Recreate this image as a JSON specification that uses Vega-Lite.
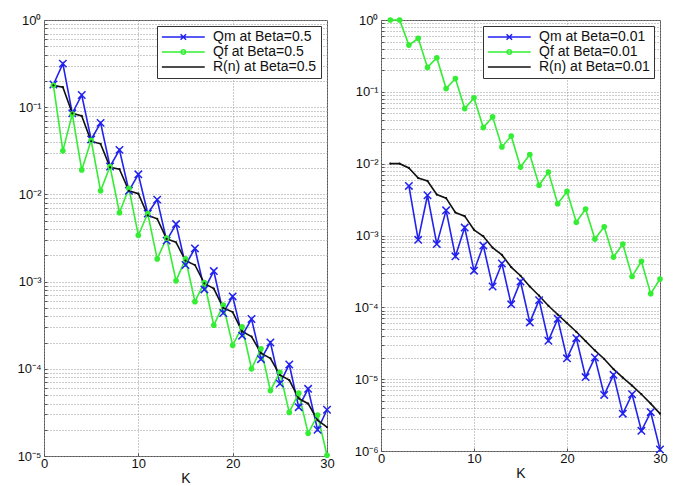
{
 "$schema": "https://vega.github.io/schema/vega-lite/v6.json",
 "background": "white",
 "padding": {"left": 16, "top": 13, "right": 5, "bottom": 0},
 "spacing": 18,
 "config": {
  "font": "Liberation Sans",
  "view": {"stroke": "#555555", "strokeWidth": 1},
  "axis": {"labelFont": "Liberation Sans", "labelFontSize": 13, "labelColor": "#111111", "titleFont": "Liberation Sans", "titleFontSize": 14, "titleFontWeight": "normal", "titleColor": "#111111", "grid": true, "gridColor": "#999999", "gridDash": [1, 2], "gridOpacity": 1, "domain": false, "tickColor": "#555555", "tickSize": -3, "labelFlush": false, "labelOverlap": false},
  "axisX": {"labelPadding": 4, "titlePadding": 1},
  "axisY": {"labelPadding": 6},
  "legend": {"orient": "top-right", "offset": 6, "title": null, "symbolType": "M-1,0H6", "symbolSize": 150, "symbolStrokeWidth": 1.5, "labelOffset": 38, "labelFontSize": 14, "labelFont": "Liberation Sans", "labelColor": "#111111", "strokeColor": "#333333", "fillColor": "white", "padding": 4, "rowPadding": 1}
 },
 "datasets": {
  "L": [
   {"K":1,"s":"Qm","v":0.182},{"K":2,"s":"Qm","v":0.316},{"K":3,"s":"Qm","v":0.0851},{"K":4,"s":"Qm","v":0.138},{"K":5,"s":"Qm","v":0.0427},{"K":6,"s":"Qm","v":0.0661},{"K":7,"s":"Qm","v":0.0209},{"K":8,"s":"Qm","v":0.0324},{"K":9,"s":"Qm","v":0.011},{"K":10,"s":"Qm","v":0.017},
   {"K":11,"s":"Qm","v":0.00603},{"K":12,"s":"Qm","v":0.00871},{"K":13,"s":"Qm","v":0.00295},{"K":14,"s":"Qm","v":0.00457},{"K":15,"s":"Qm","v":0.00155},{"K":16,"s":"Qm","v":0.0024},{"K":17,"s":"Qm","v":0.000813},{"K":18,"s":"Qm","v":0.00132},{"K":19,"s":"Qm","v":0.000437},{"K":20,"s":"Qm","v":0.000676},
   {"K":21,"s":"Qm","v":0.00024},{"K":22,"s":"Qm","v":0.000372},{"K":23,"s":"Qm","v":0.000129},{"K":24,"s":"Qm","v":0.0002},{"K":25,"s":"Qm","v":0.0000676},{"K":26,"s":"Qm","v":0.000112},{"K":27,"s":"Qm","v":0.0000363},{"K":28,"s":"Qm","v":0.0000589},{"K":29,"s":"Qm","v":0.00002},{"K":30,"s":"Qm","v":0.0000339},
   {"K":1,"s":"Qf","v":0.178},{"K":2,"s":"Qf","v":0.0316},{"K":3,"s":"Qf","v":0.0832},{"K":4,"s":"Qf","v":0.0191},{"K":5,"s":"Qf","v":0.0417},{"K":6,"s":"Qf","v":0.011},{"K":7,"s":"Qf","v":0.0209},{"K":8,"s":"Qf","v":0.00617},{"K":9,"s":"Qf","v":0.01175},{"K":10,"s":"Qf","v":0.00339},
   {"K":11,"s":"Qf","v":0.00603},{"K":12,"s":"Qf","v":0.00182},{"K":13,"s":"Qf","v":0.00316},{"K":14,"s":"Qf","v":0.00102},{"K":15,"s":"Qf","v":0.00182},{"K":16,"s":"Qf","v":0.000589},{"K":17,"s":"Qf","v":0.000977},{"K":18,"s":"Qf","v":0.000316},{"K":19,"s":"Qf","v":0.000537},{"K":20,"s":"Qf","v":0.000186},
   {"K":21,"s":"Qf","v":0.000302},{"K":22,"s":"Qf","v":0.0001},{"K":23,"s":"Qf","v":0.00017},{"K":24,"s":"Qf","v":0.0000562},{"K":25,"s":"Qf","v":0.0000912},{"K":26,"s":"Qf","v":0.0000316},{"K":27,"s":"Qf","v":0.0000525},{"K":28,"s":"Qf","v":0.0000182},{"K":29,"s":"Qf","v":0.0000295},{"K":30,"s":"Qf","v":0.0000102},
   {"K":1,"s":"R","v":0.178},{"K":2,"s":"R","v":0.17},{"K":3,"s":"R","v":0.0851},{"K":4,"s":"R","v":0.0794},{"K":5,"s":"R","v":0.0407},{"K":6,"s":"R","v":0.038},{"K":7,"s":"R","v":0.0204},{"K":8,"s":"R","v":0.0195},{"K":9,"s":"R","v":0.011},{"K":10,"s":"R","v":0.0102},
   {"K":11,"s":"R","v":0.00575},{"K":12,"s":"R","v":0.00525},{"K":13,"s":"R","v":0.00309},{"K":14,"s":"R","v":0.00282},{"K":15,"s":"R","v":0.00174},{"K":16,"s":"R","v":0.00155},{"K":17,"s":"R","v":0.000955},{"K":18,"s":"R","v":0.000832},{"K":19,"s":"R","v":0.000501},{"K":20,"s":"R","v":0.000447},
   {"K":21,"s":"R","v":0.000269},{"K":22,"s":"R","v":0.000234},{"K":23,"s":"R","v":0.000151},{"K":24,"s":"R","v":0.000132},{"K":25,"s":"R","v":0.0000851},{"K":26,"s":"R","v":0.0000741},{"K":27,"s":"R","v":0.0000457},{"K":28,"s":"R","v":0.0000398},{"K":29,"s":"R","v":0.0000257},{"K":30,"s":"R","v":0.0000214}
  ],
  "Rt": [
   {"K":3,"s":"Qm","v":0.0049},{"K":4,"s":"Qm","v":0.000871},{"K":5,"s":"Qm","v":0.00363},{"K":6,"s":"Qm","v":0.000759},{"K":7,"s":"Qm","v":0.00224},{"K":8,"s":"Qm","v":0.000513},{"K":9,"s":"Qm","v":0.00129},{"K":10,"s":"Qm","v":0.000324},
   {"K":11,"s":"Qm","v":0.000724},{"K":12,"s":"Qm","v":0.000195},{"K":13,"s":"Qm","v":0.000407},{"K":14,"s":"Qm","v":0.00011},{"K":15,"s":"Qm","v":0.000229},{"K":16,"s":"Qm","v":0.0000617},{"K":17,"s":"Qm","v":0.000126},{"K":18,"s":"Qm","v":0.0000343},{"K":19,"s":"Qm","v":0.0000692},{"K":20,"s":"Qm","v":0.0000195},
   {"K":21,"s":"Qm","v":0.0000372},{"K":22,"s":"Qm","v":0.0000107},{"K":23,"s":"Qm","v":0.00002},{"K":24,"s":"Qm","v":0.00000603},{"K":25,"s":"Qm","v":0.0000115},{"K":26,"s":"Qm","v":0.00000331},{"K":27,"s":"Qm","v":0.00000617},{"K":28,"s":"Qm","v":0.00000191},{"K":29,"s":"Qm","v":0.00000347},{"K":30,"s":"Qm","v":0.00000105},
   {"K":1,"s":"Qf","v":1},{"K":2,"s":"Qf","v":1},{"K":3,"s":"Qf","v":0.447},{"K":4,"s":"Qf","v":0.555},{"K":5,"s":"Qf","v":0.219},{"K":6,"s":"Qf","v":0.298},{"K":7,"s":"Qf","v":0.111},{"K":8,"s":"Qf","v":0.153},{"K":9,"s":"Qf","v":0.0585},{"K":10,"s":"Qf","v":0.0824},
   {"K":11,"s":"Qf","v":0.0318},{"K":12,"s":"Qf","v":0.0448},{"K":13,"s":"Qf","v":0.0171},{"K":14,"s":"Qf","v":0.0243},{"K":15,"s":"Qf","v":0.00897},{"K":16,"s":"Qf","v":0.0134},{"K":17,"s":"Qf","v":0.00501},{"K":18,"s":"Qf","v":0.00766},{"K":19,"s":"Qf","v":0.00277},{"K":20,"s":"Qf","v":0.00411},
   {"K":21,"s":"Qf","v":0.00153},{"K":22,"s":"Qf","v":0.00234},{"K":23,"s":"Qf","v":0.000891},{"K":24,"s":"Qf","v":0.00132},{"K":25,"s":"Qf","v":0.000501},{"K":26,"s":"Qf","v":0.000759},{"K":27,"s":"Qf","v":0.000269},{"K":28,"s":"Qf","v":0.000437},{"K":29,"s":"Qf","v":0.000155},{"K":30,"s":"Qf","v":0.000248},
   {"K":1,"s":"R","v":0.01},{"K":2,"s":"R","v":0.01},{"K":3,"s":"R","v":0.00871},{"K":4,"s":"R","v":0.00631},{"K":5,"s":"R","v":0.00575},{"K":6,"s":"R","v":0.00372},{"K":7,"s":"R","v":0.00331},{"K":8,"s":"R","v":0.00209},{"K":9,"s":"R","v":0.00186},{"K":10,"s":"R","v":0.0012},
   {"K":11,"s":"R","v":0.000977},{"K":12,"s":"R","v":0.000676},{"K":13,"s":"R","v":0.000537},{"K":14,"s":"R","v":0.000363},{"K":15,"s":"R","v":0.000275},{"K":16,"s":"R","v":0.000195},{"K":17,"s":"R","v":0.000145},{"K":18,"s":"R","v":0.000105},{"K":19,"s":"R","v":0.0000794},{"K":20,"s":"R","v":0.0000603},
   {"K":21,"s":"R","v":0.0000457},{"K":22,"s":"R","v":0.0000339},{"K":23,"s":"R","v":0.0000251},{"K":24,"s":"R","v":0.0000191},{"K":25,"s":"R","v":0.0000138},{"K":26,"s":"R","v":0.0000105},{"K":27,"s":"R","v":0.00000813},{"K":28,"s":"R","v":0.00000617},{"K":29,"s":"R","v":0.00000457},{"K":30,"s":"R","v":0.00000331}
  ]
 },
 "resolve": {"scale": {"color": "independent", "y": "independent", "x": "independent"}, "legend": {"color": "independent"}},
 "hconcat": [
  {
   "width": 283, "height": 436,
   "data": {"name": "L"},
   "encoding": {
    "x": {"field": "K", "type": "quantitative", "scale": {"domain": [0, 30], "nice": false, "zero": false}, "axis": {"values": [0, 10, 20, 30], "title": "K"}},
    "y": {"field": "v", "type": "quantitative", "scale": {"type": "log", "domain": [1e-5, 1], "nice": false},
     "axis": {"title": null, "values": [1e-5,2e-5,3e-5,4e-5,5e-5,6e-5,7e-5,8e-5,9e-5,1e-4,2e-4,3e-4,4e-4,5e-4,6e-4,7e-4,8e-4,9e-4,1e-3,2e-3,3e-3,4e-3,5e-3,6e-3,7e-3,8e-3,9e-3,1e-2,2e-2,3e-2,4e-2,5e-2,6e-2,7e-2,8e-2,9e-2,0.1,0.2,0.3,0.4,0.5,0.6,0.7,0.8,0.9,1],
      "labelExpr": "abs(log(datum.value)/LN10 - round(log(datum.value)/LN10)) < 0.01 ? '10' + (round(log(datum.value)/LN10) < 0 ? '⁻' : '') + ['⁰','¹','²','³','⁴','⁵','⁶'][abs(round(log(datum.value)/LN10))] : ''"}}
   },
   "layer": [
    {"mark": {"type": "line", "strokeWidth": 1.6},
     "encoding": {"color": {"field": "s", "type": "nominal", "scale": {"domain": ["Qm", "Qf", "R"], "range": ["#2222ee", "#33ee33", "#111111"]},
      "legend": {"labelExpr": "datum.label == 'Qm' ? 'Qm at Beta=0.5' : datum.label == 'Qf' ? 'Qf at Beta=0.5' : 'R(n) at Beta=0.5'",
       "encode": {"symbols": {"update": {"shape": {"signal": "datum.value == 'Qm' ? 'M-1,0H6M2.05,-0.45L2.95,0.45M2.05,0.45L2.95,-0.45' : datum.value == 'Qf' ? 'M-1,0H6M2.85,0A0.35,0.35 0 1,1 2.15,0A0.35,0.35 0 1,1 2.85,0' : 'M-1,0H6'"}}}}}}}},
    {"transform": [{"filter": "datum.s == 'Qm'"}], "mark": {"type": "point", "shape": "M-1,-1L1,1M-1,1L1,-1", "filled": false, "stroke": "#2222ee", "size": 55, "strokeWidth": 1.5, "opacity": 1}},
    {"transform": [{"filter": "datum.s == 'Qf'"}], "mark": {"type": "point", "shape": "circle", "filled": true, "color": "#33ee33", "size": 32, "opacity": 1}},
    {"transform": [{"filter": "datum.s == 'R'"}], "mark": {"type": "point", "shape": "circle", "filled": true, "color": "#111111", "size": 5, "opacity": 1}}
   ]
  },
  {
   "width": 279, "height": 431,
   "data": {"name": "Rt"},
   "encoding": {
    "x": {"field": "K", "type": "quantitative", "scale": {"domain": [0, 30], "nice": false, "zero": false}, "axis": {"values": [0, 10, 20, 30], "title": "K"}},
    "y": {"field": "v", "type": "quantitative", "scale": {"type": "log", "domain": [1e-6, 1], "nice": false},
     "axis": {"title": null, "values": [1e-6,2e-6,3e-6,4e-6,5e-6,6e-6,7e-6,8e-6,9e-6,1e-5,2e-5,3e-5,4e-5,5e-5,6e-5,7e-5,8e-5,9e-5,1e-4,2e-4,3e-4,4e-4,5e-4,6e-4,7e-4,8e-4,9e-4,1e-3,2e-3,3e-3,4e-3,5e-3,6e-3,7e-3,8e-3,9e-3,1e-2,2e-2,3e-2,4e-2,5e-2,6e-2,7e-2,8e-2,9e-2,0.1,0.2,0.3,0.4,0.5,0.6,0.7,0.8,0.9,1],
      "labelExpr": "abs(log(datum.value)/LN10 - round(log(datum.value)/LN10)) < 0.01 ? '10' + (round(log(datum.value)/LN10) < 0 ? '⁻' : '') + ['⁰','¹','²','³','⁴','⁵','⁶'][abs(round(log(datum.value)/LN10))] : ''"}}
   },
   "layer": [
    {"mark": {"type": "line", "strokeWidth": 1.6},
     "encoding": {"color": {"field": "s", "type": "nominal", "scale": {"domain": ["Qm", "Qf", "R"], "range": ["#2222ee", "#33ee33", "#111111"]},
      "legend": {"labelExpr": "datum.label == 'Qm' ? 'Qm at Beta=0.01' : datum.label == 'Qf' ? 'Qf at Beta=0.01' : 'R(n) at Beta=0.01'",
       "encode": {"symbols": {"update": {"shape": {"signal": "datum.value == 'Qm' ? 'M-1,0H6M2.05,-0.45L2.95,0.45M2.05,0.45L2.95,-0.45' : datum.value == 'Qf' ? 'M-1,0H6M2.85,0A0.35,0.35 0 1,1 2.15,0A0.35,0.35 0 1,1 2.85,0' : 'M-1,0H6'"}}}}}}}},
    {"transform": [{"filter": "datum.s == 'Qm'"}], "mark": {"type": "point", "shape": "M-1,-1L1,1M-1,1L1,-1", "filled": false, "stroke": "#2222ee", "size": 55, "strokeWidth": 1.5, "opacity": 1}},
    {"transform": [{"filter": "datum.s == 'Qf'"}], "mark": {"type": "point", "shape": "circle", "filled": true, "color": "#33ee33", "size": 32, "opacity": 1}},
    {"transform": [{"filter": "datum.s == 'R'"}], "mark": {"type": "point", "shape": "circle", "filled": true, "color": "#111111", "size": 5, "opacity": 1}}
   ]
  }
 ]
}
